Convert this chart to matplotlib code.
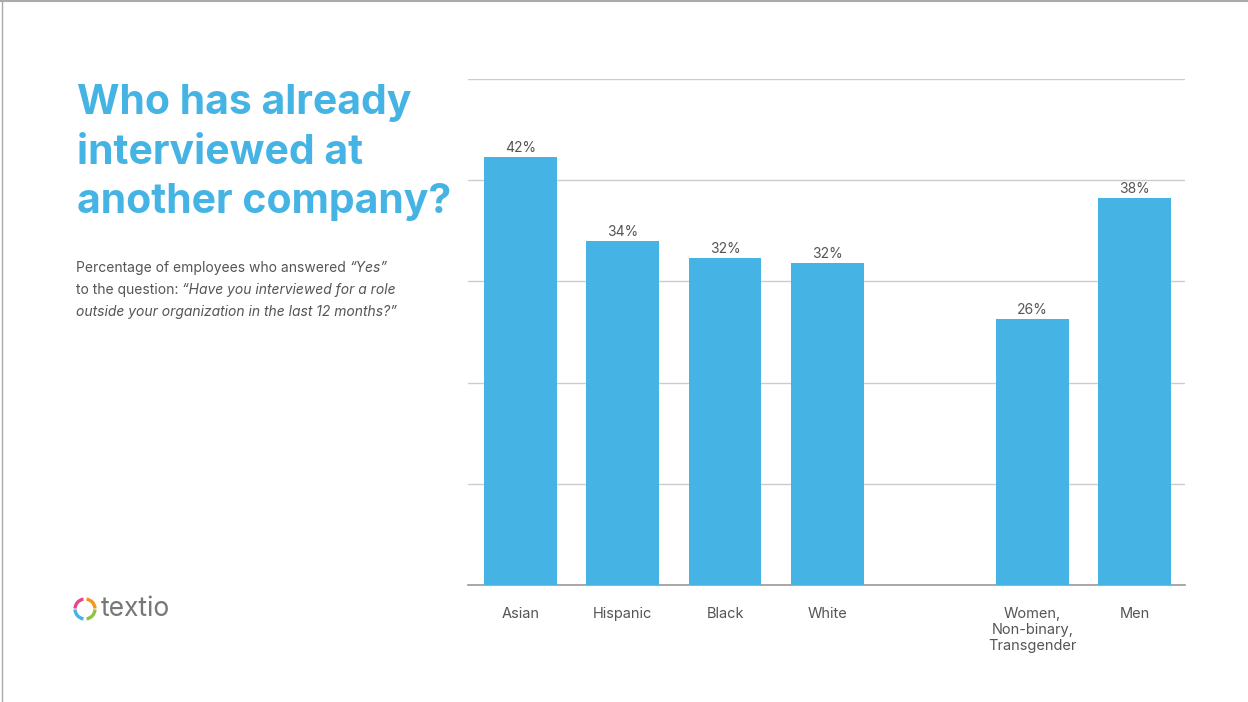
import matplotlib.pyplot as plt
from matplotlib.patches import Arc
from matplotlib.lines import Line2D

# data
categories = ["Asian", "Hispanic", "Black", "White", "", "Women,\nNon-binary,\nTransgender", "Men"]
values = [42.3, 34.0, 32.3, 31.8, None, 26.3, 38.2]
value_labels = ["42%", "34%", "32%", "32%", "", "26%", "38%"]

blue = "#45B4E4"
grey_text = "#555555"

plt.rcParams['font.family'] = ['Inter', 'DejaVu Sans']

fig = plt.figure(figsize=(12.48, 7.02), dpi=100)
W, H = 1248, 702

ax = fig.add_axes([468 / W, 117 / H, 717 / W, 506 / H])
xs = [i for i, v in enumerate(values) if v is not None]
hs = [v for v in values if v is not None]
bars = ax.bar(xs, hs, width=0.71, color=blue, zorder=3)
for x, v in zip(xs, hs):
    ax.text(x, v + 0.2, value_labels[x], ha="center", va="bottom",
            fontsize=10, color=grey_text)

ax.set_xlim(-0.51, 6.49)
ax.set_ylim(0, 50)
ax.set_yticks([0, 10, 20, 30, 40, 50])
ax.yaxis.grid(True, color="#cccccc", linewidth=1, zorder=0)
ax.tick_params(axis="y", length=0, labelleft=False)
ax.set_xticks(range(len(categories)))
ax.set_xticklabels(categories, fontsize=10.5, color=grey_text, va="top",
                   linespacing=1.15)
ax.tick_params(axis="x", length=0, pad=16)
for s in ["top", "right", "left"]:
    ax.spines[s].set_visible(False)
ax.spines["bottom"].set_color("#999999")
ax.spines["bottom"].set_linewidth(1.2)

# title
fig.text(77 / W, 1 - 84 / H, "Who has already\ninterviewed at\nanother company?",
         fontsize=29.5, fontweight="bold", color=blue, va="top", ha="left",
         linespacing=1.39)

# subtitle, mixed upright / italic runs
renderer = fig.canvas.get_renderer()
sub_lines = [
    [("Percentage of employees who answered ", "normal"), ("“Yes”", "italic")],
    [("to the question: ", "normal"), ("“Have you interviewed for a role", "italic")],
    [("outside your organization in the last 12 months?”", "italic")],
]
y0 = 268
for k, runs in enumerate(sub_lines):
    x = 76
    for txt, st in runs:
        t = fig.text(x / W, 1 - (y0 + 22 * k) / H, txt, fontsize=10,
                     color=grey_text, va="center", style=st)
        x += t.get_window_extent(renderer).width

# logo
lx, ly, r = 85, 609, 20
arcs = [(95, 175, "#E6468C"), (5, 85, "#F7941D"), (275, 355, "#8CC63F"), (185, 265, "#45B4E4")]
for t1, t2, c in arcs:
    fig.add_artist(Arc((lx / W, 1 - ly / H), r / W, r / H, theta1=t1, theta2=t2,
                       color=c, linewidth=2.4, transform=fig.transFigure))
fig.text(101 / W, 1 - 609 / H, "textio", fontsize=19, color="#777777",
         va="center", ha="left")

# border
fig.add_artist(Line2D([0, 1], [1 - 1 / H, 1 - 1 / H], color="#aaaaaa",
                      linewidth=1.5, transform=fig.transFigure))
fig.add_artist(Line2D([1.5 / W, 1.5 / W], [0, 1], color="#aaaaaa",
                      linewidth=1, transform=fig.transFigure))

fig.savefig("out.png", dpi=100, facecolor="white")
